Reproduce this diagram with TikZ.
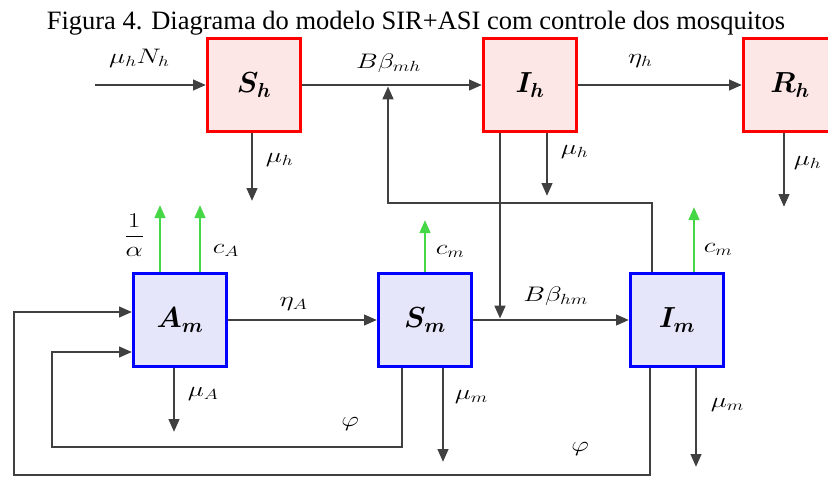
\RequirePackage{fix-cm}
\documentclass[tikz,border=0pt]{standalone}
\usepackage{amsmath}
\usepackage{bm}
\usepackage{fontspec}
\newfontfamily\titlefont{Liberation Serif}
\usetikzlibrary{arrows.meta, positioning}
\definecolor{hfill}{RGB}{253,230,230}
\definecolor{mfill}{RGB}{230,230,250}
\definecolor{linegray}{RGB}{64,64,64}
\definecolor{ctrlgreen}{RGB}{70,215,70}
\tikzstyle{human} = [rectangle, 
minimum size=93pt, 
draw=red, line width=3pt, 
fill=hfill, 
font=\fontsize{29}{32}\selectfont]
\tikzstyle{mosquito} = [rectangle, 
minimum size=93pt, 
draw=blue, line width=3pt, 
fill=mfill, 
font=\fontsize{29}{32}\selectfont]
\tikzstyle{rate} = [font=\fontsize{21}{24}\selectfont, xscale=1.3, inner sep=0pt]
\tikzstyle{line} = [line width=2.7pt, draw=linegray]
\tikzstyle{arrow} = [line, -{Triangle[length=13pt,width=10.5pt]}]
\tikzstyle{control} = [line width=2.7pt, draw=ctrlgreen, -{Triangle[length=13pt,width=10.5pt]}]

\begin{document}
\begin{tikzpicture}[x=1pt, y=-1pt]
        \useasboundingbox (0,0) rectangle (828,477);

        \node (title) [anchor=base] at (416,29) {\titlefont\fontsize{26.5}{30}\selectfont Figura 4. Diagrama do modelo SIR+ASI com controle dos mosquitos};

        % humanos
        \node (Sh) [human] at (254,85) {$\bm{S_h}$};
        \node (Ih) [human, right=180pt of Sh] {$\bm{I_h}$};
        \node (Rh) [human, right=164pt of Ih] {$\bm{R_h}$};

        % mosquitos
        \node (Am) [mosquito] at (180,320) {$\bm{A_m}$};
        \node (Sm) [mosquito, right=149pt of Am] {$\bm{S_m}$};
        \node (Im) [mosquito, right=156pt of Sm] {$\bm{I_m}$};

        \coordinate (inSh) at (95,85);
        \coordinate (mh) at (388,86.3);

        \draw [arrow] (inSh) -- node[rate, above=16pt, pos=0.4] {$\mu_h N_h$} (Sh);
        \draw [arrow] (Sh) -- node[rate, above=11pt, pos=0.48] {$B\beta_{mh}$} (Ih);
        \draw [arrow] (Ih) -- node[rate, above=16pt, pos=0.38] {$\eta_h$} (Rh);

        \draw [arrow] ([xshift=-2pt]Sh.south) -- ++(0,68) node[rate, right=12pt, pos=0.4] {$\mu_h$};
        \draw [arrow] ([xshift=17pt]Ih.south) -- ++(0,63) node[rate, right=12pt, pos=0.3] {$\mu_h$};
        \draw [arrow] ([xshift=-6pt]Rh.south) -- ++(0,74) node[rate, right=8pt, pos=0.4] {$\mu_h$};
        \draw [arrow, shorten >=1.3pt] ([xshift=-30pt]Ih.south) -- ([xshift=-30pt]Ih.south |- Sm.east);

        \draw [control] ([xshift=-20pt]Am.north) -- ++(0,-67) node[rate, left=14pt, pos=0.55] {$\dfrac{1}{\alpha}$};
        \draw [control] ([xshift=20pt]Am.north) -- ++(0,-67) node[rate, right=11pt, pos=0.32] {$c_A$};
        \draw [control] (Sm.north) -- ++(0,-52) node[rate, right=9pt, pos=0.4] {$c_m$};
        \draw [control] ([xshift=17pt]Im.north) -- ++(0,-65) node[rate, right=8pt, pos=0.35] {$c_m$};

        \draw [arrow] (Am) -- node[rate, above=8pt, pos=0.44] {$\eta_A$} (Sm);
        \draw [arrow] (Sm) -- node[rate, above=13pt, pos=0.53] {$B\beta_{hm}$} (Im);

        \draw [arrow] ([xshift=-6pt]Am.south) -- ++(0,64) node[rate, right=12pt, pos=0.4] {$\mu_A$};
        \draw [arrow] ([xshift=18pt]Sm.south) -- ++(0,94) node[rate, right=10pt, pos=0.31] {$\mu_m$};
        \draw [arrow] ([xshift=19pt]Im.south) -- ++(0,99) node[rate, right=13pt, pos=0.37] {$\mu_m$};

        \draw [arrow] ([xshift=-25pt]Im.north) -- ++(0,-69) -| (mh);
        \draw [arrow] ([xshift=-23pt]Sm.south) |- node[rate, above=15pt, pos=0.574] {$\varphi$} (52,447) |- ([yshift=-32pt]Am.west);
        \draw [arrow] ([xshift=-27pt]Im.south) |- node[rate, above=18pt, pos=0.555] {$\varphi$} (14,475) |- ([yshift=8pt]Am.west);

    \end{tikzpicture}
\end{document}
